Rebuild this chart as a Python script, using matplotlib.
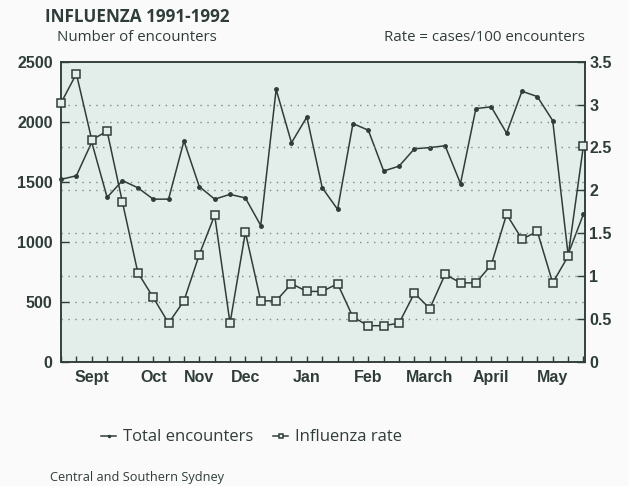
import matplotlib.pyplot as plt
import numpy as np

# weekly values, Aug 1991 - May 1992
encounters = [1520, 1550, 1830, 1370, 1510, 1450, 1355, 1355, 1840, 1460,
              1355, 1395, 1365, 1135, 2270, 1825, 2040, 1450, 1270, 1985,
              1930, 1590, 1630, 1775, 1785, 1800, 1485, 2110, 2125, 1905,
              2255, 2210, 2010, 895, 1230]
rates = [3.02, 3.36, 2.59, 2.69, 1.86, 1.04, 0.75, 0.45, 0.71, 1.25,
         1.71, 0.45, 1.51, 0.71, 0.71, 0.91, 0.82, 0.82, 0.91, 0.52,
         0.42, 0.42, 0.45, 0.80, 0.62, 1.02, 0.92, 0.92, 1.13, 1.72,
         1.43, 1.52, 0.92, 1.23, 2.52]
month_pos = [2, 6, 9, 12, 16, 20, 24, 28, 32]
month_labels = ['Sept', 'Oct', 'Nov', 'Dec', 'Jan', 'Feb', 'March', 'April', 'May']
left_ticks = [0, 500, 1000, 1500, 2000, 2500]
right_ticks = [0, 0.5, 1, 1.5, 2, 2.5, 3, 3.5]

ink = '#2f3d3a'
bg = '#e3eeea'
gridc = '#7d8a86'
weeks = np.arange(len(encounters))

fig = plt.figure(figsize=(6.29, 4.86), dpi=100, facecolor='#fafafa')
ax = fig.add_axes([0.097, 0.2558, 0.833, 0.617])
ax.set_facecolor(bg)
ax2 = ax.twinx()

l1, = ax.plot(weeks, encounters, color=ink, lw=1.1, marker='o', ms=2.5,
              label='Total encounters', zorder=3, clip_on=False)
l2, = ax2.plot(weeks, rates, color=ink, lw=1.1, marker='s', ms=5.5,
               mfc=bg, mec=ink, mew=1.1, label='Influenza rate', zorder=3,
               clip_on=False)

ax.set_xlim(0, 34.1)
ax.set_ylim(0, 2500)
ax2.set_ylim(0, 3.5)

tickfont = dict(family='Liberation Sans', weight='bold', size=11.5)
ax.set_yticks(left_ticks)
ax.set_yticklabels([str(t) for t in left_ticks], fontdict=tickfont, color=ink)
ax2.set_yticks(right_ticks)
ax2.set_yticklabels(['0', '0.5', '1', '1.5', '2', '2.5', '3', '3.5'],
                    fontdict=tickfont, color=ink)
ax.set_xticks(month_pos)
ax.set_xticklabels(month_labels, fontdict=tickfont, color=ink)
ax.set_xticks(weeks, minor=True)

ax.tick_params(axis='y', direction='in', length=6, width=1, color=ink, pad=6)
ax2.tick_params(axis='y', direction='in', length=6, width=1, color=ink, pad=3)
ax.tick_params(axis='x', which='both', direction='in', length=4, width=1,
               color=ink, pad=6)

for a in (ax, ax2):
    for s in a.spines.values():
        s.set_color(ink)
        s.set_linewidth(1.1)

for v in left_ticks[1:-1]:
    ax.axhline(v, color=gridc, lw=1, ls=(0, (1, 4)), zorder=1)
for v in right_ticks[1:-1]:
    ax2.axhline(v, color=gridc, lw=1, ls=(0, (1, 4)), zorder=1)

fig.text(0.072, 0.965, 'INFLUENZA 1991-1992', family='Open Sans',
         weight='bold', size=12.3, color=ink, va='center')
fig.text(0.091, 0.922, 'Number of encounters', family='Open Sans',
         size=10.8, color=ink, va='center')
fig.text(0.930, 0.922, 'Rate = cases/100 encounters', family='Open Sans',
         size=10.8, color=ink, va='center', ha='right')
fig.text(0.080, 0.018, 'Central and Southern Sydney', family='Open Sans',
         size=9.2, color=ink, va='center')

fig.legend(handles=[l1, l2], loc='center', bbox_to_anchor=(0.40, 0.10),
           ncol=2, frameon=False, handlelength=0.9, handletextpad=0.4,
           columnspacing=1.2, markerscale=0.6,
           prop=dict(family='Open Sans', size=12), labelcolor=ink)

fig.savefig('out.png', dpi=100, facecolor=fig.get_facecolor())
